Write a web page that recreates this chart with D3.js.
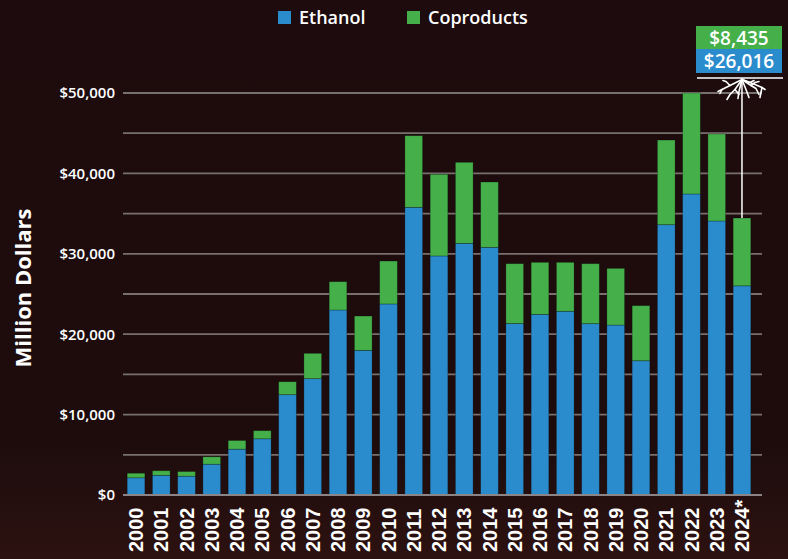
<!DOCTYPE html>
<html>
<head>
<meta charset="utf-8">
<script src="https://cdn.jsdelivr.net/npm/d3@7/dist/d3.min.js"></script>
<style>
  html, body { margin: 0; padding: 0; background: #1d0b0d; }
  svg { display: block; }
</style>
</head>
<body>
<svg id="chart" width="788" height="559"></svg>
<script>
const years = ["2000","2001","2002","2003","2004","2005","2006","2007","2008","2009","2010","2011","2012","2013","2014","2015","2016","2017","2018","2019","2020","2021","2022","2023","2024*"];
const ethanol = [2140, 2450, 2340, 3830, 5700, 6990, 12480, 14470, 23010, 17990, 23760, 35780, 29730, 31300, 30800, 21330, 22470, 22850, 21310, 21140, 16700, 33620, 37440, 34080, 26016];
const totals  = [2710, 3020, 2920, 4750, 6780, 8000, 14090, 17620, 26530, 22260, 29100, 44690, 39890, 41380, 38930, 28770, 28940, 28940, 28770, 28190, 23550, 44150, 50000, 44900, 34451];
const coproducts = totals.map((t, i) => t - ethanol[i]);
const yTicks = [0, 10000, 20000, 30000, 40000, 50000];
const gridTicks = [0, 5000, 10000, 15000, 20000, 25000, 30000, 35000, 40000, 45000, 50000];
const seriesNames = ["Ethanol", "Coproducts"];
const colors = {Ethanol: "#2b8ccd", Coproducts: "#45b04a"};
const annotation = {ethanol: "$26,016", coproducts: "$8,435"};

const FONT = "'Open Sans', Lato, sans-serif";
const svg = d3.select("#chart");
const W = 788, H = 559;

const defs = svg.append("defs");
const grad = defs.append("linearGradient").attr("id", "bg").attr("x1", 0).attr("y1", 0).attr("x2", 0).attr("y2", 1);
grad.append("stop").attr("offset", "0%").attr("stop-color", "#1d0b0d");
grad.append("stop").attr("offset", "80%").attr("stop-color", "#1e0c0d");
grad.append("stop").attr("offset", "100%").attr("stop-color", "#2c1210");
svg.append("rect").attr("width", W).attr("height", H).attr("fill", "url(#bg)");

const x = d3.scaleBand().domain(years).range([123.4, 754.6]).paddingInner(0.3).paddingOuter(0.15);
const y = d3.scaleLinear().domain([0, 50000]).range([495, 93]);

svg.append("g").selectAll("line").data(gridTicks).join("line")
  .attr("x1", 123).attr("x2", 762)
  .attr("y1", d => y(d)).attr("y2", d => y(d))
  .attr("stroke", "#77706f").attr("stroke-width", 1.8);

const rows = years.map((yr, i) => ({year: yr, Ethanol: ethanol[i], Coproducts: coproducts[i]}));
const stack = d3.stack().keys(seriesNames)(rows);
svg.append("g").selectAll("g").data(stack).join("g")
  .attr("fill", d => colors[d.key])
  .selectAll("rect").data(d => d).join("rect")
  .attr("x", d => x(d.data.year))
  .attr("width", x.bandwidth())
  .attr("y", d => y(d[1]))
  .attr("height", d => y(d[0]) - y(d[1]))
  .attr("stroke", "rgba(0,0,0,0.3)").attr("stroke-width", 0.8);

svg.append("line").attr("x1", 123).attr("x2", 762).attr("y1", y(0)).attr("y2", y(0))
  .attr("stroke", "#8a8486").attr("stroke-width", 2);

const yAxis = d3.axisLeft(y).tickValues(yTicks).tickSize(0).tickPadding(0)
  .tickFormat(d => "$" + d3.format(",")(d));
const ya = svg.append("g").attr("transform", "translate(115,0)").call(yAxis);
ya.select(".domain").remove();
ya.selectAll("text").attr("fill", "#ffffff").attr("font-family", FONT)
  .attr("font-weight", 600).attr("font-size", "15px");

const xAxis = d3.axisBottom(x).tickSize(0).tickPadding(0);
const xa = svg.append("g").call(xAxis);
xa.select(".domain").remove();
xa.selectAll(".tick").attr("transform", d => `translate(${x(d) + x.bandwidth() / 2},552)`);
xa.selectAll("text")
  .attr("transform", "rotate(-90)")
  .attr("x", 0).attr("y", 0).attr("dy", "0.36em")
  .attr("text-anchor", "start")
  .attr("fill", "#ffffff").attr("font-family", "'Liberation Sans', Arial, sans-serif")
  .attr("font-weight", 700).attr("font-size", "20px");

svg.append("text").attr("transform", "translate(31,288) rotate(-90)")
  .attr("text-anchor", "middle").attr("fill", "#ffffff")
  .attr("font-family", FONT).attr("font-weight", 700).attr("font-size", "22px")
  .text("Million Dollars");

const legendItems = [{name: "Ethanol", x: 278}, {name: "Coproducts", x: 407}];
const lg = svg.append("g").selectAll("g").data(legendItems).join("g")
  .attr("transform", d => `translate(${d.x},11)`);
lg.append("rect").attr("width", 13).attr("height", 13).attr("fill", d => colors[d.name]);
lg.append("text").attr("x", 21).attr("y", 12.5).attr("fill", "#ffffff")
  .attr("font-family", FONT).attr("font-weight", 600).attr("font-size", "18px")
  .text(d => d.name);

const last = years[years.length - 1];
const cx = x(last) + x.bandwidth() / 2;
const ann = svg.append("g");
ann.append("rect").attr("x", 696).attr("y", 26).attr("width", 86).attr("height", 23).attr("fill", colors.Coproducts);
ann.append("rect").attr("x", 696).attr("y", 49).attr("width", 86).attr("height", 24).attr("fill", colors.Ethanol);
ann.append("text").attr("x", 739).attr("y", 44.5).attr("text-anchor", "middle").attr("fill", "#fff")
  .attr("font-family", FONT).attr("font-weight", 600).attr("font-size", "19px")
  .text(annotation.coproducts);
ann.append("text").attr("x", 739).attr("y", 68).attr("text-anchor", "middle").attr("fill", "#fff")
  .attr("font-family", FONT).attr("font-weight", 600).attr("font-size", "19px")
  .text(annotation.ethanol);
ann.append("line").attr("x1", 697).attr("x2", 783).attr("y1", 78).attr("y2", 78)
  .attr("stroke", "#fff").attr("stroke-width", 1.5);
ann.append("line").attr("x1", cx).attr("x2", cx).attr("y1", 78).attr("y2", y(totals[totals.length - 1]))
  .attr("stroke", "#fff").attr("stroke-width", 1.5);
const bx = cx, by = 79.5;
const branches = [
  [[0,0],[-12,6],[-20,10],[-24,12]],
  [[-12,6],[-16,2],[-19,1]],
  [[-20,10],[-22,14]],
  [[0,0],[-7,10],[-12,15],[-15,20]],
  [[-7,10],[-3,15]],
  [[0,0],[-3,12],[-4,19]],
  [[0,0],[4,10],[7,18]],
  [[0,0],[9,6],[14,9],[17,15]],
  [[9,6],[13,3],[17,2]],
  [[0,0],[13,5],[20,8],[23,10]],
  [[20,8],[18,18]],
  [[0,0],[8,3],[12,1]]
];
const lineGen = d3.line().x(d => bx + d[0]).y(d => by + d[1]);
ann.selectAll("path.br").data(branches).join("path").attr("class", "br")
  .attr("d", lineGen).attr("fill", "none").attr("stroke", "#fff").attr("stroke-width", 1.6)
  .attr("stroke-linecap", "round").attr("stroke-linejoin", "round");
</script>
</body>
</html>
